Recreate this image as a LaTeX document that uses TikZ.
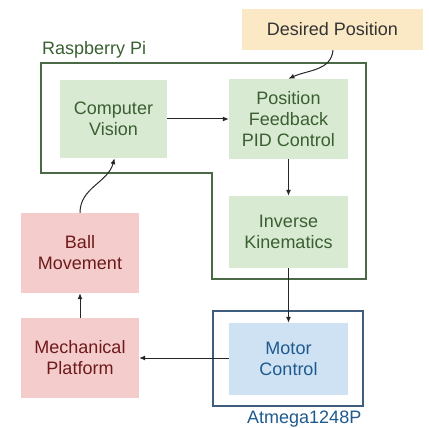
\documentclass[tikz,border=0pt]{standalone}
\usepackage{fontspec}
\setmainfont{Liberation Sans}
\usetikzlibrary{arrows.meta}

\definecolor{pifill}{HTML}{D9EAD3}
\definecolor{pitext}{HTML}{3A5F30}
\definecolor{piframe}{HTML}{4A6A46}
\definecolor{mechfill}{HTML}{F4CCCC}
\definecolor{mechtext}{HTML}{6E1A1A}
\definecolor{avrfill}{HTML}{CFE2F3}
\definecolor{avrtext}{HTML}{1F5A8E}
\definecolor{avrframe}{HTML}{3F5E7D}
\definecolor{goalfill}{HTML}{FBE9C5}
\definecolor{goaltext}{HTML}{333333}

\begin{document}
\begin{tikzpicture}[x=1pt,y=-1pt]
    \tikzset{block/.style = {shape=rectangle, inner sep=0pt, align=center, font=\fontsize{18}{21}\selectfont}}
    \tikzset{piblock/.style = {block, fill=pifill, text=pitext}}
    \tikzset{mechblock/.style = {block, fill=mechfill, text=mechtext, minimum width=118pt, minimum height=80pt}}
    \tikzset{label/.style = {inner sep=0pt, anchor=base west, font=\fontsize{18}{21}\selectfont}}
    \tikzset{edge/.style = {draw=black!85, line width=1pt, ->, >={Latex[length=6pt,width=5pt]}}}

    \useasboundingbox (0,0) rectangle (429,428);

    % frames
    \draw[piframe, line width=1.2pt] (41,63) -- (366,63) -- (366,279) -- (212,279) -- (212,173) -- (41,173) -- cycle;
    \draw[avrframe, line width=1.2pt] (213,311) rectangle (363,406);
    \node[label, text=pitext] (rpi) at (42,55) {Raspberry Pi};
    \node[label, text=avrtext] (avr) at (247,423) {Atmega1248P};

    % vertices
    \node[block, fill=goalfill, text=goaltext, minimum width=181pt, minimum height=41pt] (goal) at (332.5,29.5) {Desired Position};
    \node[piblock, minimum width=107pt, minimum height=78pt] (cv) at (113.5,119) {Computer\\Vision};
    \node[piblock, minimum width=119pt, minimum height=80pt] (pid) at (288.5,119) {Position\\Feedback\\PID Control};
    \node[piblock, minimum width=119pt, minimum height=72pt] (ik) at (288.5,232) {Inverse\\Kinematics};
    \node[block, fill=avrfill, text=avrtext, minimum width=119pt, minimum height=72pt] (motor) at (288.5,359) {Motor\\Control};
    \node[mechblock] (mech) at (80,358) {Mechanical\\Platform};
    \node[mechblock] (ball) at (80,253) {Ball\\Movement};

    % edges
    \draw[edge] ([xshift=0.5pt]goal.south) to[out=-95, in=25] (pid.north);
    \draw[edge] (cv) -- (pid);
    \draw[edge] (pid) -- (ik);
    \draw[edge] (ik) -- (motor);
    \draw[edge] (motor.west |- mech.east) -- (mech.east);
    \draw[edge] (mech) -- (ball);
    \draw[edge] (ball.north) to[out=90, in=-105] ([xshift=1pt]cv.south);
\end{tikzpicture}
\end{document}
